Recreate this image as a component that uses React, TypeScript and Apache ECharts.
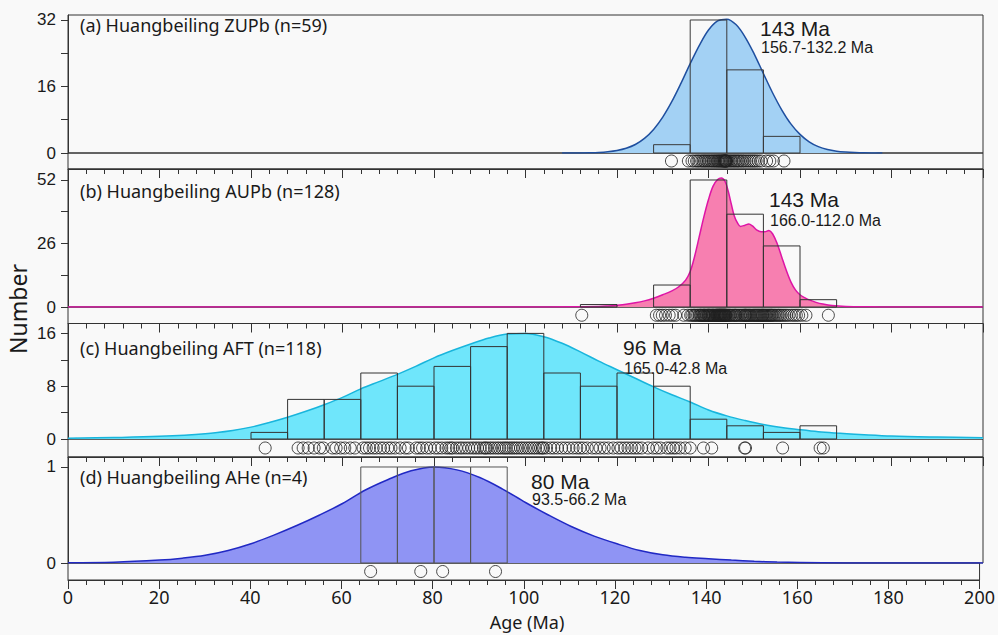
import React, { useEffect, useRef } from "react";
import * as echarts from "echarts";

// ---------- shared axis ----------
const AGE_MIN = 0;
const AGE_MAX = 200;
const AGE_STEP = 20;
const BIN_WIDTH = 8;

// ---------- (a) Huangbeiling ZUPb ----------
const aTitle = "(a) Huangbeiling ZUPb (n=59)";
const aPeak = "143 Ma";
const aRange = "156.7-132.2 Ma";
const aBinStarts = [128, 136, 144, 152];
const aCounts = [2, 32, 20, 4];
const aYTicks = [0, 8, 16, 24, 32];
const aYLabels = [0, 16, 32];
const aKde: number[][] = [
  [108, 0], [112, 0.03], [114, 0.07], [116, 0.15], [118, 0.32], [120, 0.62], [122, 1.15],
  [124, 2.04], [126, 3.51], [128, 5.67], [130, 8.63], [132, 12.4], [134, 16.8], [136, 21.5],
  [138, 25.9], [140, 29.6], [142, 31.8], [144, 32.2], [146, 30.9], [148, 27.9], [150, 23.8],
  [152, 19.1], [154, 14.5], [156, 10.4], [158, 7.0], [160, 4.48], [162, 2.7], [164, 1.53],
  [166, 0.82], [168, 0.43], [170, 0.22], [172, 0.1], [174, 0.04], [178, 0],
];
const aAges = [
  131.9, 135.6,
  136.4, 136.9, 137.4, 137.7, 138.1, 138.5, 138.8, 139.1, 139.4, 139.7,
  140.0, 140.3, 140.6, 140.9, 141.1, 141.4, 141.6, 141.9, 142.1, 142.3,
  142.5, 142.7, 142.9, 143.1, 143.2, 143.4, 143.5, 143.6, 143.7, 143.8,
  143.9, 143.95,
  144.2, 144.5, 144.8, 145.1, 145.4, 145.7, 146.0, 146.3, 146.6, 146.9,
  147.3, 147.6, 148.0, 148.4, 148.8, 149.2, 149.6, 150.0, 150.4, 150.9, 151.5,
  152.7, 153.4, 154.2, 156.5,
];

// ---------- (b) Huangbeiling AUPb ----------
const bTitle = "(b) Huangbeiling AUPb (n=128)";
const bPeak = "143 Ma";
const bRange = "166.0-112.0 Ma";
const bBinStarts = [112, 128, 136, 144, 152, 160];
const bCounts = [1, 9, 52, 38, 25, 3];
const bYTicks = [0, 13, 26, 39, 52];
const bYLabels = [0, 26, 52];
const bKde: number[][] = [
  [0, 0], [100, 0], [110, 0.1], [116, 0.2], [118, 0.4], [120, 0.7], [122, 1.1], [124, 1.7],
  [126, 2.5], [128, 3.6], [130, 5.0], [132, 6.6], [133.5, 8.3], [135, 11], [136, 14.5],
  [137, 21], [138, 29], [139, 37], [140, 44], [141, 49.5], [142, 52.2], [142.8, 52.8],
  [143.6, 51.5], [144.3, 47.5], [145, 42], [145.6, 37.5], [146.3, 34.5], [147, 33],
  [148, 33.5], [148.8, 34], [149.6, 33.2], [150.5, 31.6], [151.5, 30.8], [152.3, 30.8],
  [153.2, 31.3], [154, 30], [155, 26], [156, 20.5], [157, 15], [158, 10.3], [159, 7],
  [160, 5], [161, 3.8], [162, 2.9], [163.5, 1.9], [165, 1.2], [167, 0.6], [170, 0.25],
  [175, 0.08], [180, 0], [200, 0],
];
const bAges = [
  112.3,
  128.6, 129.3, 129.9, 130.6, 131.4, 132.1, 132.8, 134.6, 135.5,
  136.1, 136.4, 136.8, 137.0, 137.3, 137.6, 137.9, 138.1, 138.3, 138.4,
  138.6, 138.9, 139.0, 139.1, 139.3, 139.5, 139.7, 139.9, 140.0, 140.1,
  140.3, 140.4, 140.6, 140.8, 140.9, 141.1, 141.2, 141.4, 141.5, 141.7,
  141.8, 141.9, 142.0, 142.1, 142.2, 142.35, 142.4, 142.5, 142.6, 142.7,
  142.8, 142.9, 143.0, 143.1, 143.2, 143.3, 143.4, 143.5, 143.6, 143.7,
  143.8, 143.9,
  144.1, 144.3, 144.5, 144.7, 144.9, 145.2, 145.4, 145.7, 145.9, 146.0,
  146.3, 146.6, 146.9, 147.1, 147.4, 147.6, 147.9, 148.0, 148.1, 148.3,
  148.5, 148.7, 148.9, 149.1, 149.3, 149.6, 149.8, 150.0, 150.2, 150.4,
  150.6, 150.8, 151.0, 151.2, 151.4, 151.6, 151.8, 151.9,
  152.1, 152.3, 152.5, 152.7, 152.9, 153.1, 153.3, 153.5, 153.7, 153.9,
  154.1, 154.4, 154.7, 155.0, 155.3, 155.6, 155.9, 156.3, 156.7, 157.1,
  157.6, 158.2, 158.7, 159.2, 159.7,
  160.4, 161.3, 166.2,
];

// ---------- (c) Huangbeiling AFT ----------
const cTitle = "(c) Huangbeiling AFT (n=118)";
const cPeak = "96 Ma";
const cRange = "165.0-42.8 Ma";
const cBinStarts = [40, 48, 56, 64, 72, 80, 88, 96, 104, 112, 120, 128, 136, 144, 152, 160];
const cCounts = [1, 6, 6, 10, 8, 11, 14, 16, 10, 8, 10, 8, 3, 2, 1, 2];
const cYTicks = [0, 4, 8, 12, 16];
const cYLabels = [0, 8, 16];
const cKde: number[][] = [
  [0, 0.12], [10, 0.22], [20, 0.4], [30, 0.8], [36, 1.3], [40, 1.8], [44, 2.5], [48, 3.3],
  [52, 4.2], [56, 5.2], [60, 6.3], [64, 7.6], [68, 8.7], [72, 9.8], [76, 11.0], [80, 12.3],
  [84, 13.4], [88, 14.4], [92, 15.3], [96, 15.9], [100, 16.0], [104, 15.5], [108, 14.5],
  [112, 13.2], [116, 11.8], [120, 10.5], [124, 9.2], [128, 7.9], [132, 6.7], [136, 5.6],
  [140, 4.4], [144, 3.5], [148, 2.8], [152, 2.2], [156, 1.75], [160, 1.4], [164, 1.1],
  [168, 0.9], [174, 0.65], [180, 0.45], [190, 0.3], [200, 0.2],
];
const cAges = [
  43.1,
  50.3, 51.4, 52.5, 53.8, 55.0, 55.8,
  57.8, 58.6, 59.6, 60.5, 61.7, 62.7,
  64.5, 65.2, 65.9, 66.7, 67.4, 68.3, 69.0, 69.9, 70.6, 71.5,
  72.6, 73.7, 74.4, 76.1, 76.8, 77.5, 78.4, 79.2,
  80.2, 80.9, 81.7, 82.6, 83.2, 83.7, 84.1, 84.9, 85.6, 86.2, 86.9, 87.6,
  88.3, 88.9, 89.5, 90.1, 90.8, 91.2, 91.5, 92.1, 92.6, 93.2, 93.8, 94.3, 94.9, 95.4, 95.8,
  96.3, 96.8, 97.3, 97.8, 98.3, 98.9, 99.4, 100.0, 100.6, 101.1, 101.7, 102.2, 102.8, 103.3,
  103.7, 103.95,
  104.6, 105.5, 106.2, 107.0, 107.9, 108.7, 109.5, 110.4, 111.2, 111.9,
  112.6, 113.5, 114.6, 115.4, 116.3, 117.2, 118.1, 119.2,
  120.2, 120.9, 121.7, 122.4, 123.2, 123.9, 124.6, 125.4, 126.8, 127.9,
  128.7, 129.5, 130.9, 131.6, 132.3, 132.9, 133.8, 134.9,
  136.0, 138.9, 140.7,
  147.9, 148.1,
  156.2,
  164.4, 165.1,
];

// ---------- (d) Huangbeiling AHe ----------
const dTitle = "(d) Huangbeiling AHe (n=4)";
const dPeak = "80 Ma";
const dRange = "93.5-66.2 Ma";
const dBinStarts = [64, 72, 80, 88];
const dCounts = [1, 1, 1, 1];
const dYTicks = [0, 1];
const dYLabels = [0, 1];
const dKde: number[][] = [
  [0, 0.003], [10, 0.008], [20, 0.03], [25, 0.05], [30, 0.08], [35, 0.13], [40, 0.2],
  [45, 0.29], [50, 0.39], [55, 0.5], [60, 0.62], [65, 0.76], [70, 0.87], [75, 0.96],
  [80, 1.0], [85, 0.97], [90, 0.89], [95, 0.77], [100, 0.63], [105, 0.5], [110, 0.38],
  [115, 0.28], [120, 0.2], [125, 0.13], [130, 0.085], [135, 0.06], [140, 0.045],
  [145, 0.03], [150, 0.018], [155, 0.01], [160, 0.006], [170, 0.001], [200, 0],
];
const dAges = [66.4, 77.4, 82.2, 93.8];

const xTitle = "Age (Ma)";
const yTitle = "Number";

type Panel = {
  title: string; peak: string; range: string;
  binStarts: number[]; counts: number[]; kde: number[][]; ages: number[];
  yTicks: number[]; yLabels: number[];
  // layout / style
  top: number; zero: number; bottom: number; yMax: number;
  fill: string; line: string; barStroke: string;
  titleY: number; peakX: number; peakY: number; rangeY: number;
};

const panels: Panel[] = [
  {
    title: aTitle, peak: aPeak, range: aRange, binStarts: aBinStarts, counts: aCounts,
    kde: aKde, ages: aAges, yTicks: aYTicks, yLabels: aYLabels,
    top: 15, zero: 153, bottom: 169, yMax: 33.2,
    fill: "#a3d1f4", line: "#1f4f9f", barStroke: "#3a3a3a",
    titleY: 25, peakX: 760, peakY: 28, rangeY: 47,
  },
  {
    title: bTitle, peak: bPeak, range: bRange, binStarts: bBinStarts, counts: bCounts,
    kde: bKde, ages: bAges, yTicks: bYTicks, yLabels: bYLabels,
    top: 169, zero: 307, bottom: 323.5, yMax: 56.5,
    fill: "#f77fb0", line: "#de14a6", barStroke: "#333333",
    titleY: 191, peakX: 769, peakY: 199, rangeY: 220,
  },
  {
    title: cTitle, peak: cPeak, range: cRange, binStarts: cBinStarts, counts: cCounts,
    kde: cKde, ages: cAges, yTicks: cYTicks, yLabels: cYLabels,
    top: 323.5, zero: 439, bottom: 457, yMax: 17.5,
    fill: "#6fe6fb", line: "#19b5dc", barStroke: "#333333",
    titleY: 348, peakX: 623, peakY: 347, rangeY: 368,
  },
  {
    title: dTitle, peak: dPeak, range: dRange, binStarts: dBinStarts, counts: dCounts,
    kde: dKde, ages: dAges, yTicks: dYTicks, yLabels: dYLabels,
    top: 457, zero: 563, bottom: 580, yMax: 1.104,
    fill: "#8f94f4", line: "#2129c4", barStroke: "#555555",
    titleY: 477, peakX: 531, peakY: 481, rangeY: 499,
  },
];

const AXIS_COLOR = "#333333";
const TEXT_COLOR = "#1a1a1a";

function buildOption() {
  const grid: any[] = [];
  const xAxis: any[] = [];
  const yAxis: any[] = [];
  const series: any[] = [];
  const graphic: any[] = [];

  panels.forEach((p, i) => {
    const h = 2 * i;
    const s = 2 * i + 1;
    grid.push({
      left: 68, right: 15, top: p.top, height: p.zero - p.top,
      show: true, borderColor: AXIS_COLOR, borderWidth: 1, backgroundColor: "transparent",
    });
    grid.push({
      left: 68, right: 15, top: p.zero, height: p.bottom - p.zero,
      show: true, borderColor: AXIS_COLOR, borderWidth: 1, backgroundColor: "transparent",
    });
    xAxis.push({ gridIndex: h, type: "value", min: AGE_MIN, max: AGE_MAX, show: false });
    xAxis.push({
      gridIndex: s, type: "value", min: AGE_MIN, max: AGE_MAX, interval: AGE_STEP,
      position: "bottom",
      axisLine: { show: true, lineStyle: { color: AXIS_COLOR, width: 1 } },
      axisTick: { show: true, inside: false, length: 9, lineStyle: { color: AXIS_COLOR } },
      minorTick: { show: true, splitNumber: 5, length: 5, lineStyle: { color: AXIS_COLOR } },
      axisLabel: {
        show: i === panels.length - 1, margin: 8, fontFamily: "Noto Sans", fontSize: 18,
        lineHeight: 18, color: TEXT_COLOR,
      },
      splitLine: { show: false }, minorSplitLine: { show: false },
    });
    yAxis.push({
      gridIndex: h, type: "value", min: 0, max: p.yMax,
      axisLine: { show: true, lineStyle: { color: AXIS_COLOR } },
      axisTick: {
        show: true, inside: false, length: 7, customValues: p.yTicks,
        lineStyle: { color: AXIS_COLOR },
      },
      axisLabel: {
        customValues: p.yLabels, margin: 12, fontFamily: "Liberation Sans", fontSize: 17,
        color: TEXT_COLOR,
      },
      splitLine: { show: false },
    });
    yAxis.push({ gridIndex: s, type: "value", min: 0, max: 1, show: false });

    series.push({
      type: "line", xAxisIndex: h, yAxisIndex: h, data: p.kde, smooth: 0.35,
      symbol: "none", z: 2,
      lineStyle: { color: p.line, width: 1.5 },
      areaStyle: { color: p.fill, opacity: 1 },
    });
    series.push({
      type: "custom", xAxisIndex: h, yAxisIndex: h, z: 3,
      data: p.binStarts.map((b, k) => [b, b + BIN_WIDTH, p.counts[k]]),
      encode: { x: [0, 1], y: 2 },
      renderItem: (_params: any, api: any) => {
        const tl = api.coord([api.value(0), api.value(2)]);
        const br = api.coord([api.value(1), 0]);
        return {
          type: "rect",
          shape: { x: tl[0], y: tl[1], width: br[0] - tl[0], height: br[1] - tl[1] },
          style: { fill: "none", stroke: p.barStroke, lineWidth: 1 },
        };
      },
    });
    series.push({
      type: "scatter", xAxisIndex: s, yAxisIndex: s, z: 4,
      data: p.ages.map((a) => [a, 0.5]),
      symbol: "circle", symbolSize: 12,
      itemStyle: { color: "rgba(0,0,0,0)", borderColor: "#1e1e1e", borderWidth: 1 },
    });

    graphic.push({
      type: "text", x: 80, y: p.titleY, silent: true,
      style: {
        text: p.title, fontFamily: "Noto Sans", fontSize: 18, fill: TEXT_COLOR,
        align: "left", verticalAlign: "middle",
      },
    });
    graphic.push({
      type: "text", x: p.peakX, y: p.peakY, silent: true,
      style: {
        text: p.peak, fontFamily: "Liberation Sans", fontSize: 21, fill: TEXT_COLOR,
        align: "left", verticalAlign: "middle",
      },
    });
    graphic.push({
      type: "text", x: p.peakX + 1, y: p.rangeY, silent: true,
      style: {
        text: p.range, fontFamily: "Liberation Sans", fontSize: 16, fill: TEXT_COLOR,
        align: "left", verticalAlign: "middle",
      },
    });
  });

  graphic.push({
    type: "text", x: 527, y: 612, silent: true,
    style: {
      text: xTitle, fontFamily: "Noto Sans", fontSize: 18, lineHeight: 19, fill: TEXT_COLOR,
      align: "center", verticalAlign: "top",
    },
  });
  graphic.push({
    type: "text", x: 18, y: 309, rotation: Math.PI / 2, silent: true,
    style: {
      text: yTitle, fontFamily: "Noto Sans", fontSize: 23, fill: TEXT_COLOR,
      align: "center", verticalAlign: "middle",
    },
  });

  return {
    animation: false,
    backgroundColor: "#f9f9f9",
    grid, xAxis, yAxis, series, graphic,
  };
}

export default function App() {
  const ref = useRef<HTMLDivElement>(null);
  useEffect(() => {
    if (!ref.current) return;
    const chart = echarts.init(ref.current, undefined, { renderer: "svg" });
    chart.setOption(buildOption() as any);
    return () => chart.dispose();
  }, []);
  return (
    <div
      ref={ref}
      style={{ position: "fixed", left: 0, top: 0, width: 998, height: 635, background: "#f9f9f9" }}
    />
  );
}
